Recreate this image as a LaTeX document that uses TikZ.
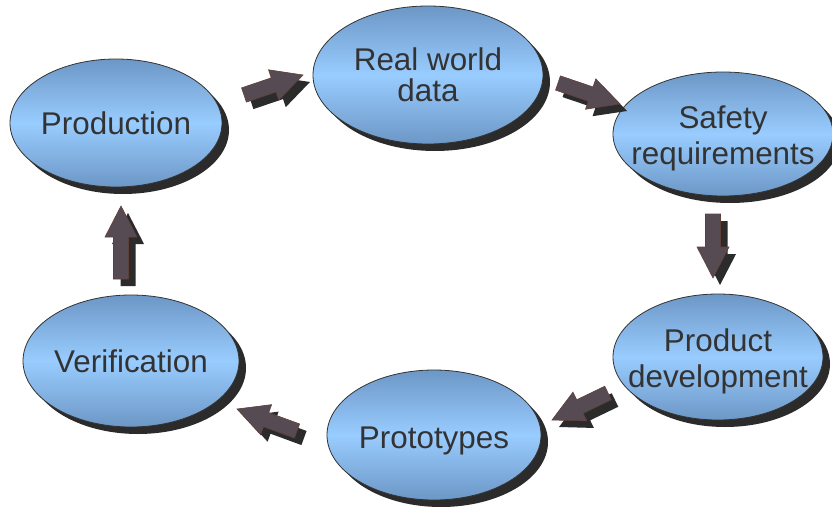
\documentclass[tikz,border=0pt]{standalone}
\usepackage{fontspec}
\setmainfont{Liberation Sans}
\usepackage{xcolor}
\usetikzlibrary{positioning,calc,shapes.geometric,shadows}
\definecolor{elltop}{HTML}{6C97C6}
\definecolor{ellmid}{HTML}{99CCFF}
\definecolor{shadowgray}{HTML}{2B2B2B}
\definecolor{arrowfill}{HTML}{574B53}
\definecolor{arrowline}{HTML}{5E4038}
\definecolor{textgray}{HTML}{333333}

\begin{document}
\begin{tikzpicture}[x=1pt, y=-1pt,
	ell/.style={ellipse, draw=textgray, line width=0.8pt, inner sep=0pt,
		top color=elltop, bottom color=elltop, middle color=ellmid,
		drop shadow={shadow xshift=7pt, shadow yshift=-7pt, fill=shadowgray, opacity=1}},
	lbl/.style={align=center, text=textgray, font=\fontsize{31.4pt}{36pt}\selectfont},
	blk/.style={fill=arrowfill, draw=arrowline, line width=0.6pt,
		drop shadow={shadow xshift=7pt, shadow yshift=-7pt, fill=shadowgray, opacity=1}}]
		\useasboundingbox (0,0) rectangle (832,506);
		\fill[white] (0,0) rectangle (832,506);
		
		\node[ell, minimum width=212pt, minimum height=128pt] (prod) at (116,123) {};
		\node[ell, minimum width=230pt, minimum height=138pt] (real) at (428,75) {};
		\node[ell, minimum width=220pt, minimum height=124pt] (safe) at (723,134) {};
		\node[ell, minimum width=210pt, minimum height=126pt] (dev) at (718,357) {};
		\node[ell, minimum width=214pt, minimum height=130pt] (proto) at (434,435) {};
		\node[ell, minimum width=216pt, minimum height=132pt] (verif) at (131,361) {};
		
		\node[lbl] (prodtxt) at (prod) {Production};
		\node[lbl, font=\fontsize{31.4pt}{31pt}\selectfont] (realtxt) at (real) {Real world\\data};
		\node[lbl, yshift=-4pt] (safetxt) at (safe) {Safety\\requirements};
		\node[lbl, yshift=-4pt] (devtxt) at (dev) {Product\\development};
		\node[lbl, yshift=-6pt] (prototxt) at (proto) {Prototypes};
		\node[lbl] (veriftxt) at (verif) {Verification};
		
		% arrow tails (a) and tips (b)
		\coordinate (a1) at (244,95);  \coordinate (b1) at (303,75);
		\coordinate (a2) at (558,83);  \coordinate (b2) at (620,104);
		\coordinate (a3) at (713,214); \coordinate (b3) at (713,278);
		\coordinate (a4) at (608,393); \coordinate (b4) at (552,420);
		\coordinate (a5) at (297,431); \coordinate (b5) at (237,409);
		\coordinate (a6) at (121,279); \coordinate (b6) at (121,206);
		
		\foreach \s/\e in {a1/b1,a2/b2,a3/b3,a4/b4,a5/b5,a6/b6}{
			\coordinate (n) at ($(\e)!31pt!(\s)$);
			\filldraw[blk] ($(\s)!7.5pt!90:(\e)$) -- ($(n)!7.5pt!90:(\e)$) -- ($(n)!16pt!90:(\e)$)
				-- (\e) -- ($(n)!16pt!-90:(\e)$) -- ($(n)!7.5pt!-90:(\e)$) -- ($(\s)!7.5pt!-90:(\e)$) -- cycle;
		}
	\end{tikzpicture}
\end{document}
